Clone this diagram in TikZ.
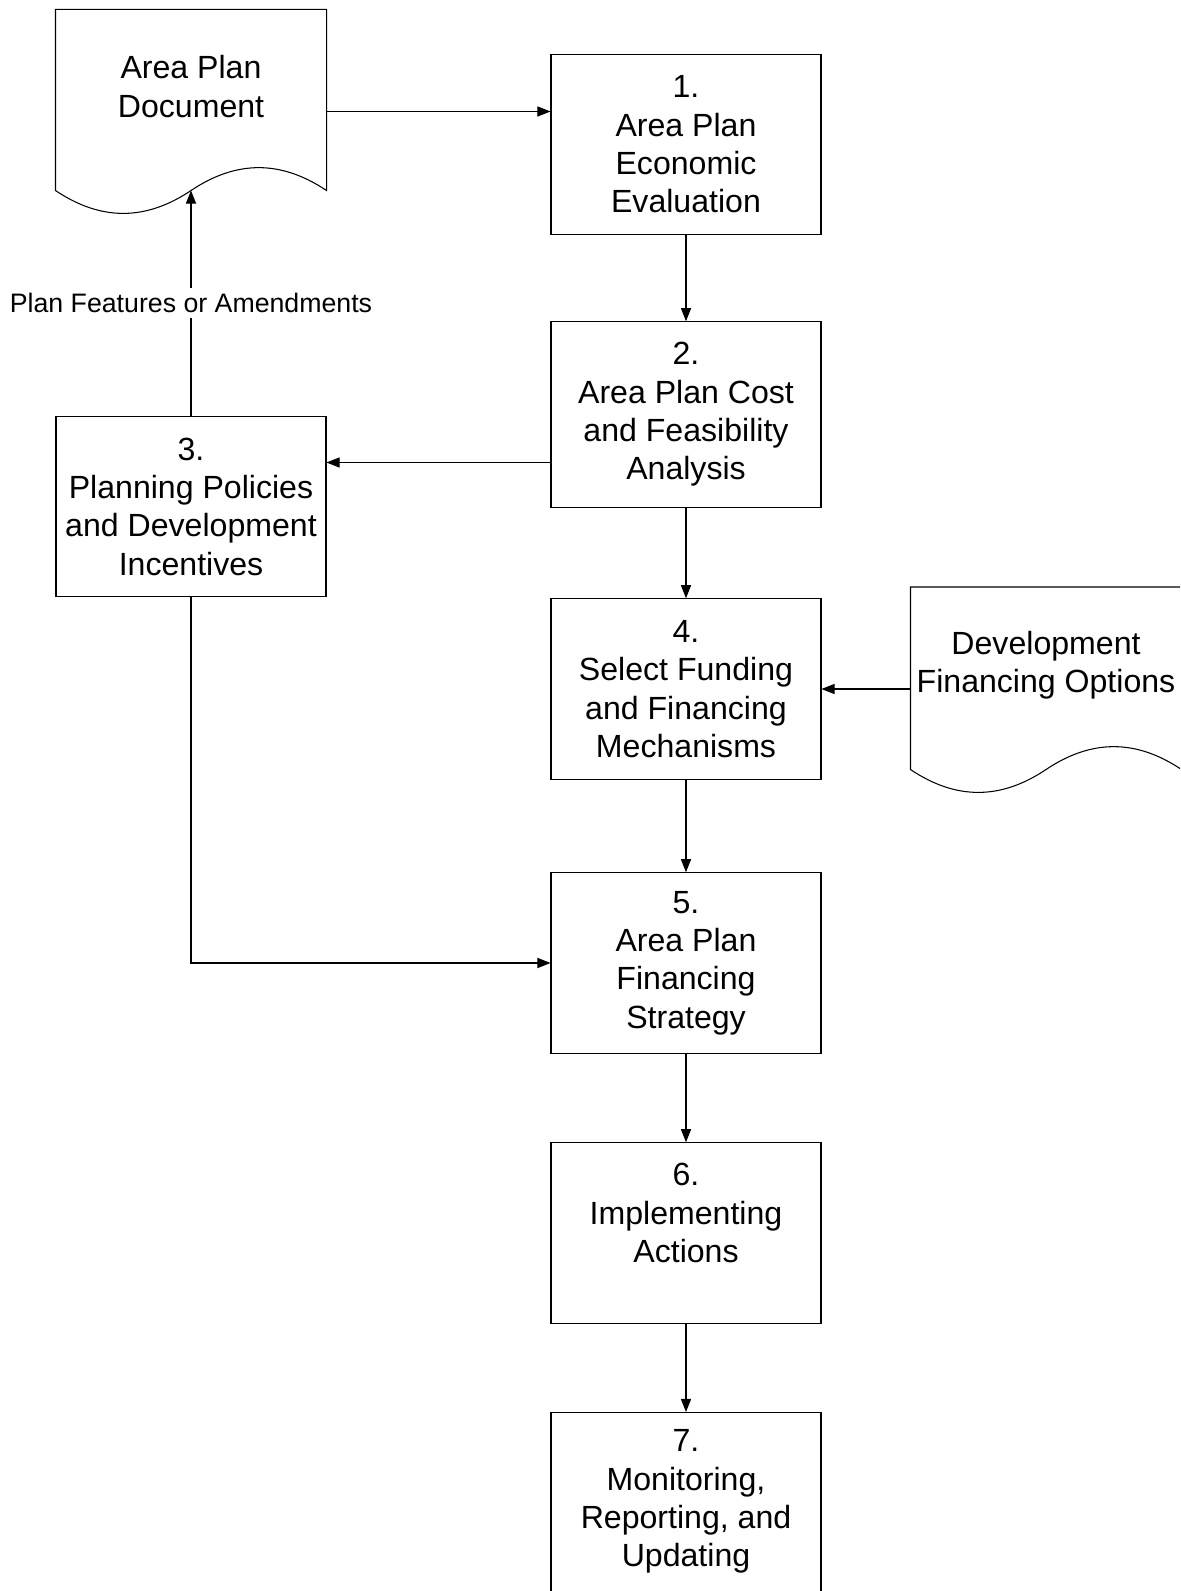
\documentclass[tikz,border=0pt]{standalone}
\usepackage{fontspec}
\setmainfont{Liberation Sans}
\usetikzlibrary{positioning,arrows.meta}

\begin{document}
\begin{tikzpicture}[-{Triangle[length=7.5pt,width=5.8pt]}, line width=0.6pt,
node distance=5.40cm and 9.90cm, on grid,
stepbox/.style={draw, minimum width=5.40cm, minimum height=3.61cm,
align=center, inner sep=0pt, font=\fontsize{18.26}{21.8}\selectfont},
document/.style={minimum width=5.40cm, align=center, inner sep=0pt,
font=\fontsize{18.26}{21.8}\selectfont},
note/.style={fill=white, inner sep=3pt, font=\fontsize{15.2}{18.3}\selectfont}]
\path[use as bounding box, clip] (0,0) rectangle (23.6,-31.82);
% main column
\node[stepbox] (box1) at (13.72,-2.89) {1.\\Area Plan\\Economic\\Evaluation};
\node[stepbox, minimum height=3.71cm] (box2) [below=of box1]
{2.\\Area Plan Cost\\and Feasibility\\Analysis};
\node[stepbox] (box4) [below=5.49cm of box2]
{4.\\Select Funding\\and Financing\\Mechanisms};
\node[stepbox] (box5) [below=5.48cm of box4] {5.\\Area Plan\\Financing\\Strategy};
\node[stepbox, text depth=23pt] (box6) [below=of box5] {6.\\Implementing\\Actions};
\node[stepbox, minimum height=4.46cm, text depth=29.2pt] (box7) [below=5.82cm of box6]
{7.\\Monitoring,\\Reporting, and\\Updating};
% side column
\node[stepbox] (box3) [below left=1.84cm and 9.90cm of box2]
{3.\\Planning Policies\\and Development\\Incentives};
\node[document, minimum height=3.06cm] (doc1) [above left=1.16cm and 9.90cm of box1]
{Area Plan\\Document};
\node[document, minimum height=3.12cm] (doc2) [above right=0.47cm and 7.20cm of box4]
{Development\\Financing Options};
\coordinate (doc1wave) at ([yshift=-0.54cm]doc1.south);
\coordinate (doc2wave) at ([yshift=-0.51cm]doc2.south);
% document outlines
\foreach \d/\drop in {doc1/0.54, doc2/0.51} {
\draw[-] (\d.north west) -- (\d.north east) -- ([yshift=-\drop cm]\d.south east)
.. controls +(-0.91,0.61) and +(0.91,0.61) .. (\d wave)
.. controls +(-0.91,-0.61) and +(0.91,-0.61) .. ([yshift=-\drop cm]\d.south west) -- cycle;
}
% connectors
\draw ([yshift=-0.50cm]doc1.east) -- ([yshift=-0.50cm]doc1.east -| box1.west);
\path (box1) edge (box2);
\draw ([yshift=-0.96cm]box2.west) -- ([yshift=-0.96cm]box2.west -| box3.east);
\draw (box3) -- node[note] {Plan Features or Amendments} (doc1wave);
\path (box2) edge (box4);
\draw (doc2.west |- box4.east) -- (box4.east);
\path (box4) edge (box5);
\draw (box3) |- (box5);
\path (box5) edge (box6);
\path (box6) edge (box7);
\end{tikzpicture}
\end{document}
